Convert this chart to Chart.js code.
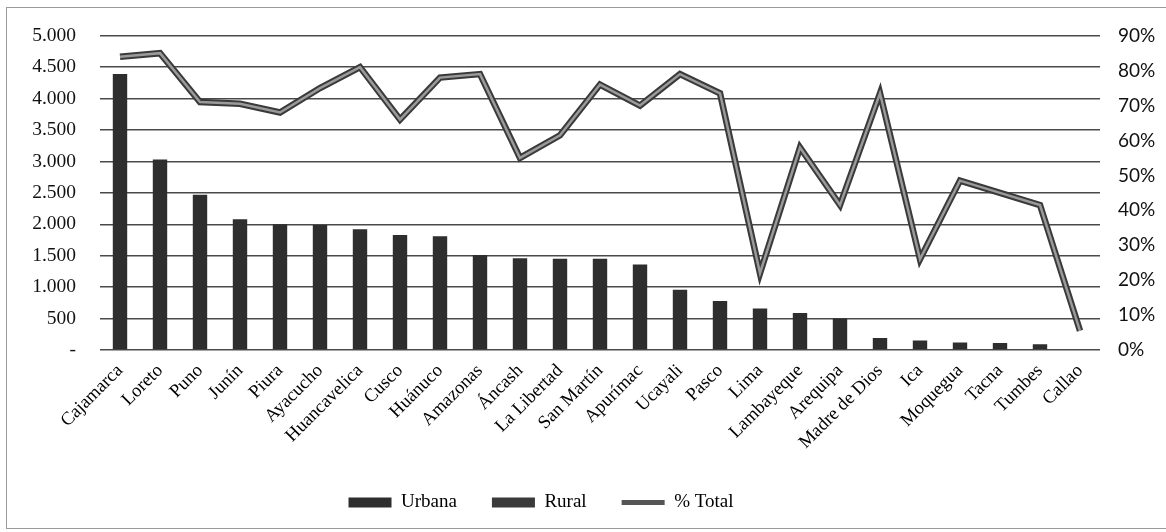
<!DOCTYPE html>
<html>
<head>
<meta charset="utf-8">
<script src="https://cdn.jsdelivr.net/npm/chart.js@4/dist/chart.umd.min.js"></script>
<style>
    html, body { margin: 0; padding: 0; background: #fff; }
    #ChartWrapper { position: relative; width: 1166px; height: 532px; }
    #Frame { position: absolute; left: 6px; top: 7px; width: 1166px; height: 522px; border: 1px solid #9a9a9a; box-sizing: border-box; pointer-events: none; }
</style>
</head>
<body>
<div id="ChartWrapper">
    <canvas id="Chart" width="1166" height="532"></canvas>
    <div id="Frame"></div>
</div>
<script>
// регионы
var regiones = ['Cajamarca', 'Loreto', 'Puno', 'Junín', 'Piura', 'Ayacucho', 'Huancavelica', 'Cusco',
    'Huánuco', 'Amazonas', 'Áncash', 'La Libertad', 'San Martín', 'Apurímac', 'Ucayali', 'Pasco', 'Lima',
    'Lambayeque', 'Arequipa', 'Madre de Dios', 'Ica', 'Moquegua', 'Tacna', 'Tumbes', 'Callao'];

// значения столбцов (левая ось)
var urbana = [4390, 3030, 2470, 2080, 2000, 1990, 1920, 1830, 1810, 1510, 1460, 1450, 1450, 1360,
    960, 780, 660, 590, 500, 190, 150, 120, 110, 90, 0];
var rural = [null, null, null, null, null, null, null, null, null, null, null, null, null, null,
    null, null, null, null, null, null, null, null, null, null, null];

// линия % Total (правая ось)
var pctTotal = [84, 85, 71, 70.5, 68, 75, 81, 66, 78, 79, 55, 61.5, 76, 70, 79, 73.5, 22, 58,
    41.5, 73.5, 26, 48.5, 45, 41.5, 5.5];

var leftTicks = [0, 500, 1000, 1500, 2000, 2500, 3000, 3500, 4000, 4500, 5000];
var rightTicks = [0, 10, 20, 30, 40, 50, 60, 70, 80, 90];

var SERIF = "'Liberation Serif', 'Times New Roman', serif";

function formatMiles(v) {
    if (v === 0) return '-';
    return v.toString().replace(/\B(?=(\d{3})+(?!\d))/g, '.');
}

// сдвигаем легенду немного влево, как в оригинале
var legendShift = {
    id: 'legendShift',
    afterLayout: function (chart) {
        if (chart.legend) {
            chart.legend.right -= 84;
        }
    }
};

var data = {
    labels: regiones,
    datasets: [
        {
            type: 'bar',
            label: 'Urbana',
            data: urbana,
            yAxisID: 'y',
            backgroundColor: '#2e2e2e',
            pointStyle: 'rect',
            order: 3
        },
        {
            type: 'bar',
            label: 'Rural',
            data: rural,
            yAxisID: 'y',
            backgroundColor: '#3a3a3a',
            pointStyle: 'rect',
            order: 4
        },
        {
            type: 'line',
            label: '% Total',
            data: pctTotal,
            yAxisID: 'y1',
            borderColor: '#3a3a3a',
            backgroundColor: '#8a8a8a',
            borderWidth: 6.5,
            pointRadius: 0,
            pointStyle: 'line',
            tension: 0,
            order: 2
        },
        {
            type: 'line',
            label: '_inner',
            data: pctTotal,
            yAxisID: 'y1',
            borderColor: '#9a9a9a',
            borderWidth: 2.5,
            pointRadius: 0,
            tension: 0,
            order: 1
        }
    ]
};

var config = {
    type: 'bar',
    data: data,
    plugins: [legendShift],
    options: {
        responsive: false,
        animation: false,
        skipNull: true,
        categoryPercentage: 1,
        barPercentage: 0.36,
        layout: { padding: { top: 34, bottom: 10, left: 0, right: 0 } },
        plugins: {
            tooltip: { enabled: false },
            legend: {
                position: 'bottom',
                labels: {
                    color: '#000',
                    font: { family: SERIF, size: 19 },
                    usePointStyle: true,
                    pointStyleWidth: 43,
                    boxHeight: 10,
                    padding: 35,
                    filter: function (item) { return item.text !== '_inner'; },
                    sort: function (a, b) { return a.datasetIndex - b.datasetIndex; },
                    generateLabels: function (chart) {
                        var items = Chart.defaults.plugins.legend.labels.generateLabels(chart);
                        items.forEach(function (it) {
                            if (it.text === '% Total') {
                                it.lineWidth = 5;
                                it.strokeStyle = '#555';
                            } else {
                                it.lineWidth = 0;
                            }
                        });
                        return items;
                    }
                }
            }
        },
        scales: {
            x: {
                grid: { display: false },
                border: { display: false },
                ticks: {
                    color: '#000',
                    font: { family: SERIF, size: 18.5 },
                    minRotation: 45,
                    maxRotation: 45,
                    autoSkip: false,
                    padding: 2
                },
                afterFit: function (scale) { scale.height = 108; }
            },
            y: {
                position: 'left',
                min: 0,
                max: 5000,
                afterBuildTicks: function (scale) {
                    scale.ticks = leftTicks.map(function (v) { return { value: v }; });
                },
                grid: { color: '#4a4a4a', lineWidth: 1.5, drawTicks: false },
                border: { display: false },
                ticks: {
                    color: '#111',
                    font: { family: SERIF, size: 19.5 },
                    padding: 24,
                    callback: function (v) { return formatMiles(v); }
                },
                afterFit: function (scale) { scale.width = 100; }
            },
            y1: {
                position: 'right',
                min: 0,
                max: 90,
                afterBuildTicks: function (scale) {
                    scale.ticks = rightTicks.map(function (v) { return { value: v }; });
                },
                grid: { display: false, drawTicks: false },
                border: { display: false },
                ticks: {
                    color: '#111',
                    font: { family: "Lato, 'Open Sans', sans-serif", size: 19 },
                    padding: 18,
                    callback: function (v) { return v + '%'; }
                },
                afterFit: function (scale) { scale.width = 66; }
            }
        }
    }
};

var myChart = new Chart(document.getElementById('Chart'), config);
</script>
</body>
</html>
